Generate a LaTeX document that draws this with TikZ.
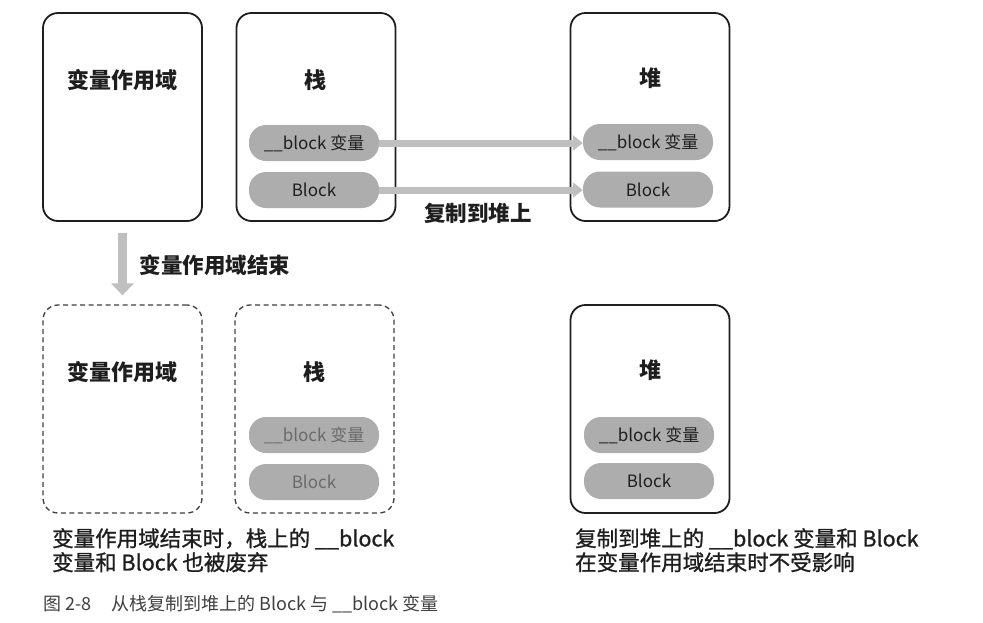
\documentclass[tikz,border=0pt]{standalone}
\usepackage{fontspec}
\setmainfont{Noto Sans CJK SC}
\newfontfamily\notefont{Noto Sans CJK SC}[FakeBold=1]
\usepackage{tikz}
\usetikzlibrary{arrows.meta,positioning}
\definecolor{pillfill}{HTML}{ADADAD}
\definecolor{arrowfill}{HTML}{BFBFBF}
\definecolor{fadetext}{HTML}{6A6A6A}
\definecolor{inktext}{HTML}{1E1E1E}

\begin{document}
\begin{tikzpicture}[x=1pt,y=-1pt,
    area/.style={draw=inktext,line width=1.8pt,rounded corners=15pt,minimum width=159pt,minimum height=208pt,inner sep=0pt},
    gone/.style={area,dash pattern=on 5pt off 3.5pt,line width=1.3pt,draw=black!75},
    heading/.style={font=\fontsize{22}{22}\selectfont\bfseries,text=inktext},
    pill/.style={fill=pillfill,rounded corners=17pt,minimum width=130pt,minimum height=36pt,inner sep=0pt,font=\fontsize{17}{17}\selectfont,text=inktext},
    copyline/.style={draw=arrowfill,line width=7pt,-{Triangle[length=10pt,width=15pt]}},
    endline/.style={draw=arrowfill,line width=8.5pt,-{Triangle[length=12pt,width=22pt]}},
    note/.style={font=\notefont\fontsize{21.5}{24}\selectfont,text=inktext,align=left,inner sep=0pt},
]
    \fill[white] (0,0) rectangle (983,622);
    \useasboundingbox (0,0) rectangle (983,622);

    % before: scope, stack and heap
    \node[area] (scopeA) at (122.5,117) {};
    \node[area] (stackA) at (316,117) {};
    \node[area] (heapA) at (650,117) {};
    \node[heading] (scopeAt) at (122.5,80) {变量作用域};
    \node[heading] (stackAt) at (315,80) {栈};
    \node[heading] (heapAt) at (650,78) {堆};
    \node[pill] (varA) at (314,143) {\_\_block 变量};
    \node[pill] (blkA) at (314,190) {Block};
    \node[pill] (hvarA) at (648,142) {\_\_block 变量};
    \node[pill] (hblkA) at (648,189.5) {Block};
    \draw[copyline] (varA.east) -- (hvarA.west |- varA.east);
    \draw[copyline] (blkA.east) -- (hblkA.west |- blkA.east);
    \node[heading,font=\fontsize{21.5}{21.5}\selectfont\bfseries] (copyt) at (478,213) {复制到堆上};

    % scope ends
    \node[area,gone] (scopeB) at (122.5,409) {};
    \draw[endline,shorten <=11pt,shorten >=9pt] (scopeA.south) -- (scopeB.north);
    \node[heading,font=\fontsize{21.5}{21.5}\selectfont\bfseries,anchor=west] (endt) at (136,265) {变量作用域结束};

    % after
    \node[area,gone] (stackB) at (314.5,409) {};
    \node[area] (heapB) at (650,409) {};
    \node[heading] (scopeBt) at (122,372) {变量作用域};
    \node[heading] (stackBt) at (314.5,372) {栈};
    \node[heading] (heapBt) at (650,370) {堆};
    \node[pill,text=fadetext] (varB) at (314,435) {\_\_block 变量};
    \node[pill,text=fadetext] (blkB) at (314,482) {Block};
    \node[pill] (hvarB) at (649,435) {\_\_block 变量};
    \node[pill] (hblkB) at (649,481) {Block};

    % notes
    \node[note,anchor=north west] (leftnote) at (52,528) {变量作用域结束时，栈上的 \_\_block\\变量和 Block 也被废弃};
    \node[note,anchor=north west] (rightnote) at (575,528) {复制到堆上的 \_\_block 变量和 Block\\在变量作用域结束时不受影响};
    \node[font=\fontsize{18}{18}\selectfont,text=black!75,anchor=west,inner sep=0pt] (figcap) at (43,604) {图 2-8\hspace{20pt}从栈复制到堆上的 Block 与 \_\_block 变量};
\end{tikzpicture}
\end{document}
